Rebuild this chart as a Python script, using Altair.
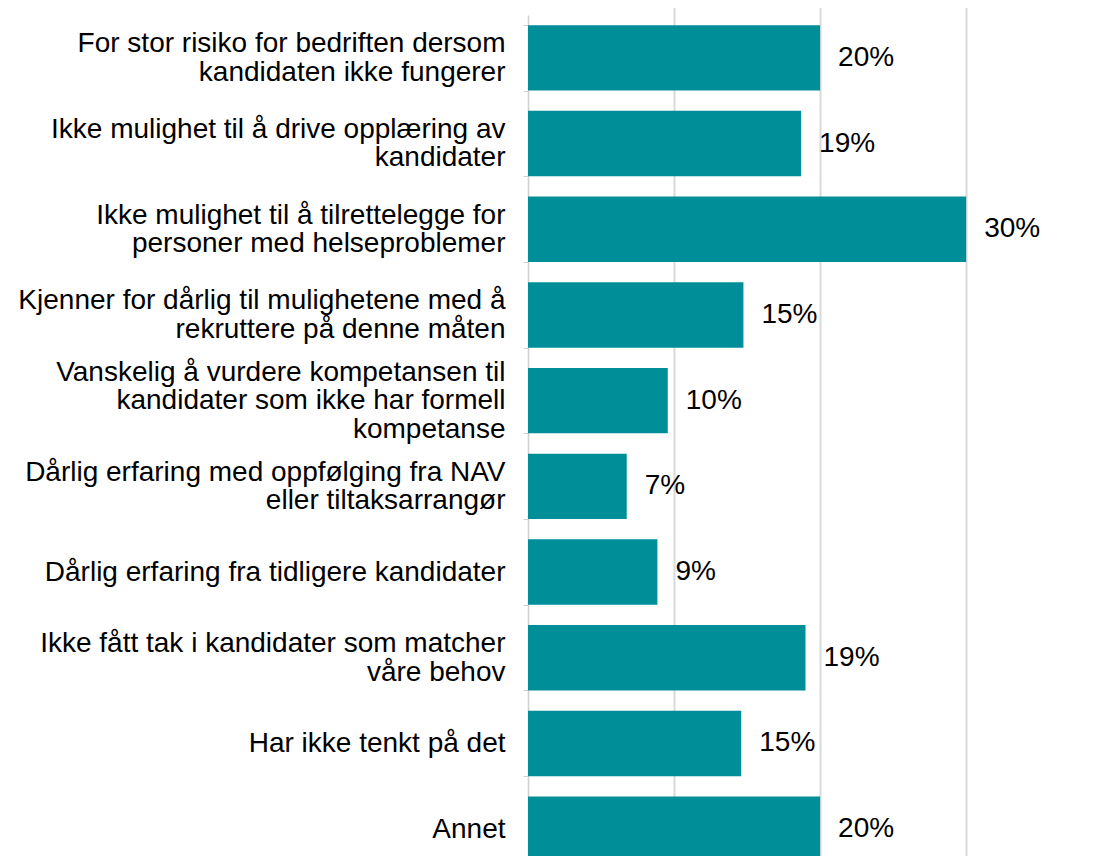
import altair as alt
import pandas as pd

categories = [
    "For stor risiko for bedriften dersom\nkandidaten ikke fungerer",
    "Ikke mulighet til å drive opplæring av\nkandidater",
    "Ikke mulighet til å tilrettelegge for\npersoner med helseproblemer",
    "Kjenner for dårlig til mulighetene med å\nrekruttere på denne måten",
    "Vanskelig å vurdere kompetansen til\nkandidater som ikke har formell\nkompetanse",
    "Dårlig erfaring med oppfølging fra NAV\neller tiltaksarrangør",
    "Dårlig erfaring fra tidligere kandidater",
    "Ikke fått tak i kandidater som matcher\nvåre behov",
    "Har ikke tenkt på det",
    "Annet",
]
values = [0.200, 0.187, 0.300, 0.1475, 0.0957, 0.0676, 0.0886, 0.190, 0.146, 0.200]
value_labels = ["20%", "19%", "30%", "15%", "10%", "7%", "9%", "19%", "15%", "20%"]

df = pd.DataFrame({"kategori": categories, "andel": values, "etikett": value_labels})

FONT = "Liberation Sans"
TEAL = "#008f98"
LINE_H = 28.5

n_lines = "length(split(datum.value, '\\n'))"
label_offset = {
    "condition": [
        {"test": f"isString(datum.value) && {n_lines} == 3", "value": -LINE_H},
        {"test": f"isString(datum.value) && {n_lines} == 2", "value": -LINE_H / 2},
    ],
    "value": 0,
}

y_scale = alt.Scale(paddingInner=0.237, paddingOuter=0.1185, range=[0, 857])
x_scale = alt.Scale(domain=[0, 0.38], nice=False)

y_enc = alt.Y(
    "kategori:N",
    sort=categories,
    title=None,
    scale=y_scale,
    axis=alt.Axis(
        labelExpr="isString(datum.value) ? split(datum.value, '\\n') : ''",
        labelFont=FONT,
        labelFontSize=28,
        labelLineHeight=LINE_H,
        labelColor="#000000",
        labelAlign="right",
        labelBaseline="middle",
        labelPadding=18,
        labelOffset=label_offset,
        labelLimit=0,
        tickBand="extent",
        tickSize=5,
        tickColor="#d0d0d0",
        domainColor="#d0d0d0",
        domainWidth=1.5,
        grid=False,
    ),
)

x_enc = alt.X(
    "andel:Q",
    title=None,
    scale=x_scale,
    axis=alt.Axis(
        orient="bottom",
        values=[0.1, 0.2, 0.3],
        labels=False,
        ticks=False,
        domain=False,
        grid=True,
        gridColor="#d9d9d9",
        gridWidth=2,
    ),
)

bars = alt.Chart(df).mark_bar(color=TEAL).encode(x=x_enc, y=y_enc)

texts = alt.Chart(df).mark_text(
    align="left", baseline="middle", dx=18, font=FONT, fontSize=28, color="#000000"
).encode(
    x=alt.X("andel:Q", scale=x_scale),
    y=alt.Y("kategori:N", sort=categories, scale=y_scale),
    text="etikett:N",
)

chart = (
    alt.layer(bars, texts)
    .properties(
        width=555,
        height=841,
        background="white",
        autosize=alt.AutoSizeParams(type="none"),
        padding={"left": 520, "top": 7, "right": 0, "bottom": 0},
    )
    .configure_view(stroke="transparent", strokeWidth=0)
    .configure_axisX(domain=False)
)

chart.save("out.html", embed_options={"renderer": "svg", "actions": False})
